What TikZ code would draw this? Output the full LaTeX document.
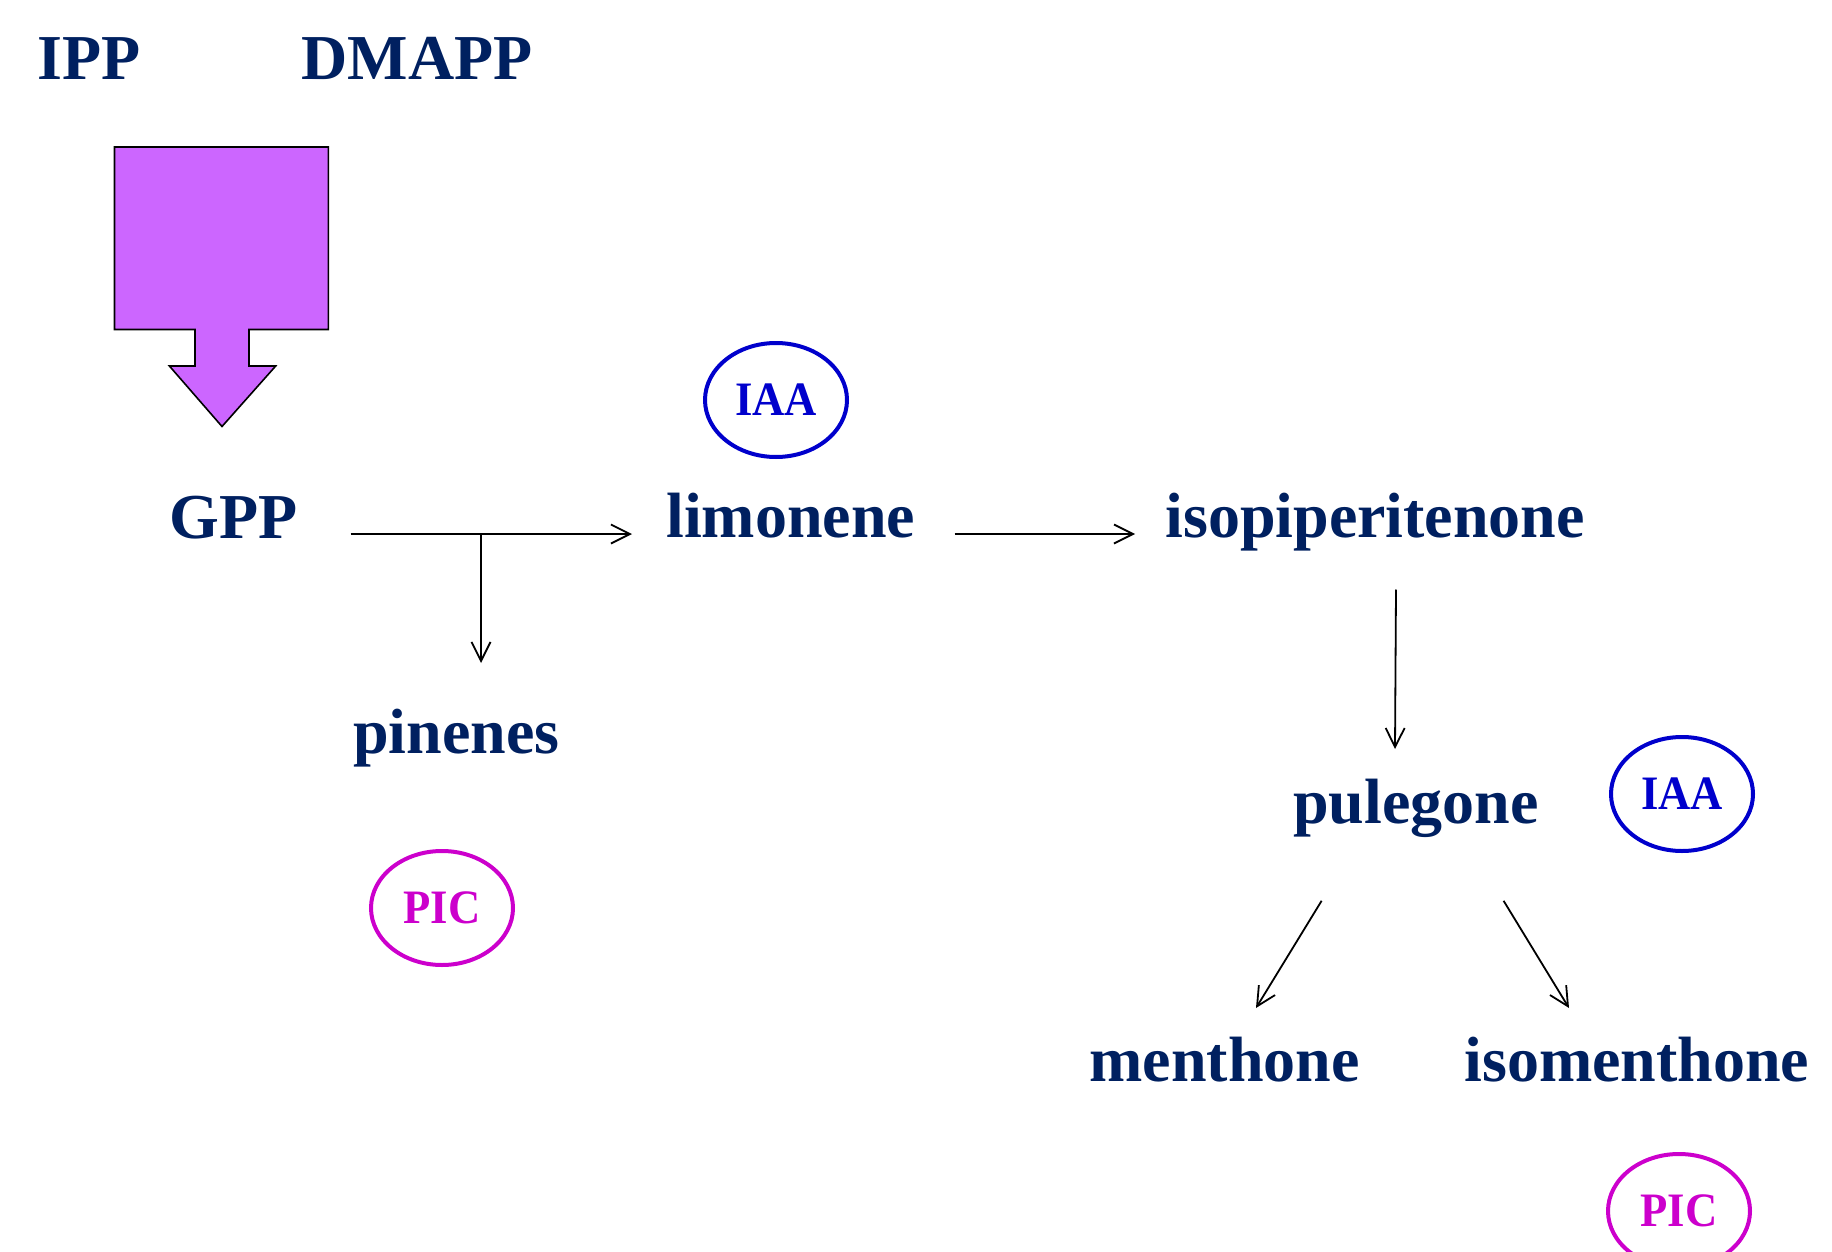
\documentclass[tikz,border=0pt]{standalone}
\usepackage{fontspec}
\setmainfont{Liberation Serif}
\usetikzlibrary{arrows.meta,shapes.geometric}
\definecolor{navy}{HTML}{002060}
\definecolor{iaablue}{HTML}{0000CC}
\definecolor{picmag}{HTML}{CC00CC}
\definecolor{arrowfill}{HTML}{CC66FF}
\newcommand{\enzlabel}[1]{\scalebox{0.93}[1]{#1}}
\begin{document}
\begin{tikzpicture}[x=0.5pt,y=-0.5pt,
  compound/.style={anchor=base west, inner sep=0pt, text=navy, font=\fontsize{32}{38}\selectfont\bfseries},
  enzyme/.style={ellipse, draw, line width=2pt, minimum width=71pt, minimum height=57pt, inner sep=0pt, font=\fontsize{24}{28}\selectfont\bfseries},
  iaa/.style={enzyme, draw=iaablue, text=iaablue},
  pic/.style={enzyme, draw=picmag, text=picmag},
  rxn/.style={line width=0.9pt, -{Straight Barb[length=9.5pt,width=9.5pt]}},
  blockarrow/.style={fill=arrowfill, draw=black, line width=0.8pt, line join=miter}
]
\useasboundingbox (0,0) rectangle (1832,1252);

% block arrow
\draw[blockarrow] (114.5,147) -- (328.3,147) -- (328.3,329.5) -- (249,329.5) -- (249,366)
  -- (275.7,366) -- (222,426.5) -- (169.4,366) -- (195,366) -- (195,329.5)
  -- (114.5,329.5) -- cycle;

% compounds
\node[compound] (ipp) at (37,79.5) {IPP};
\node[compound] (dmapp) at (301,79.5) {DMAPP};
\node[compound] (gpp) at (169,538) {GPP};
\node[compound] (limonene) at (666,537) {limonene};
\node[compound] (isopip) at (1165,537) {isopiperitenone};
\node[compound] (pinenes) at (353,753.5) {pinenes};
\node[compound] (pulegone) at (1293,823) {pulegone};
\node[compound] (menthone) at (1089,1081) {menthone};
\node[compound] (isomenthone) at (1464,1081) {isomenthone};

% enzymes / inhibitors
\node[iaa] (iaa1) at (776,400) {\enzlabel{IAA}};
\node[iaa] (iaa2) at (1682,794) {\enzlabel{IAA}};
\node[pic] (pic1) at (442,908) {\enzlabel{PIC}};
\node[pic] (pic2) at (1679,1211) {\enzlabel{PIC}};

% connector end points
\coordinate (gppout) at (350.5,534);
\coordinate (branch) at (481,534);
\coordinate (limin) at (632,534);
\coordinate (pinin) at (481,663);
\coordinate (limout) at (954.6,534);
\coordinate (isopin) at (1135,534);
\coordinate (isopout) at (1396,589.5);
\coordinate (pulin) at (1395,749);
\coordinate (pulout1) at (1321.6,900.8);
\coordinate (menin) at (1256,1008);
\coordinate (pulout2) at (1503.6,900.8);
\coordinate (isomin) at (1569,1008);

\draw[rxn] (gppout) -- (limin);
\draw[rxn] (branch) -- (pinin);
\draw[rxn] (limout) -- (isopin);
\draw[rxn] (isopout) -- (pulin);
\draw[rxn] (pulout1) -- (menin);
\draw[rxn] (pulout2) -- (isomin);
\end{tikzpicture}
\end{document}
